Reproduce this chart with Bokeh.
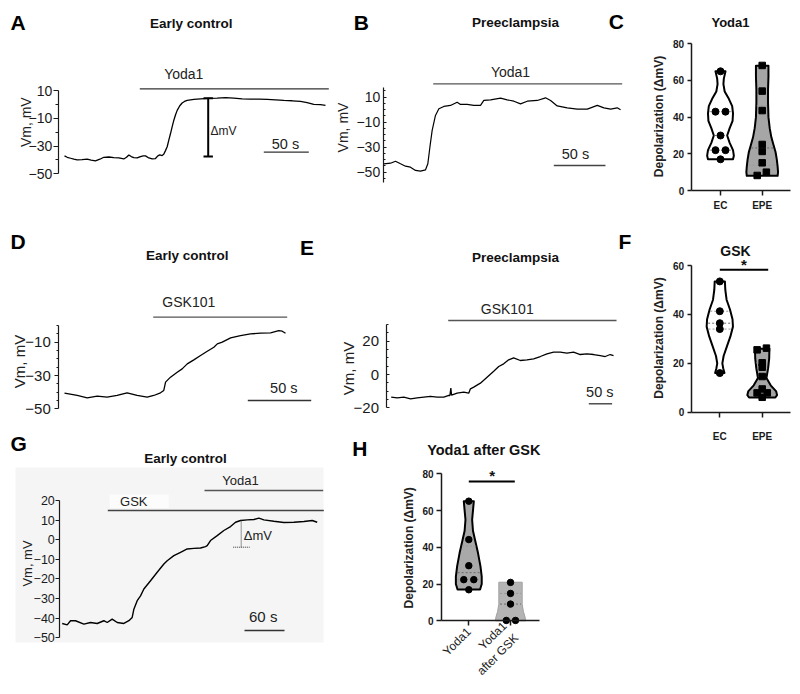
import math
import numpy as np
from bokeh.plotting import figure
from bokeh.models import Range1d, FixedTicker, Spacer
from bokeh.layouts import row, column
from bokeh.core.properties import value
from bokeh.embed import file_html
from bokeh.resources import INLINE

FONT = "Liberation Sans"

# ---------------- data ----------------
# A: early control, Yoda1 (time in s, membrane potential in mV)
a_time = [0, 3.0, 6.7, 10.4, 14.1, 19.6, 25.2, 29.6, 34.4, 39.3, 43.7, 49.3, 54.8, 60.4, 65.9, 68.9,
          71.5, 74.1, 77.0, 80.7, 84.4, 87.4, 90.0, 93.7, 97.4, 101.1, 103.7, 105.9, 108.5, 110.4,
          112.2, 114.1, 115.9, 117.8, 119.6, 121.5, 123.3, 125.2, 128.1, 130.7, 133.3, 136.3, 143.7,
          151.1, 160.4, 169.6, 178.9, 188.1, 197.4, 206.7, 215.9, 225.2, 234.4, 243.7, 253.0, 262.2,
          269.6, 277.0, 284.4, 290.0]
a_vm = [-37.1, -38.1, -38.8, -39.5, -40.0, -39.8, -39.5, -40.2, -40.7, -39.5, -38.1, -37.9, -38.3,
        -38.6, -39.3, -38.1, -36.4, -37.6, -38.3, -38.6, -37.6, -37.1, -37.1, -38.6, -39.3, -39.0,
        -37.1, -36.4, -36.9, -35.7, -33.3, -30.5, -25.7, -21.0, -16.2, -11.4, -7.6, -4.3, -1.0, 1.0,
        2.1, 2.9, 3.6, 4.0, 4.3, 4.5, 4.8, 4.5, 4.0, 3.8, 3.8, 3.6, 3.3, 2.9, 2.6, 2.1, 1.2, 0.0,
        -0.2, -0.7]

# B: preeclampsia, Yoda1
b_time = [0, 6.5, 11.3, 16.2, 21.0, 25.8, 30.7, 35.5, 40.4, 42.6, 44.6, 46.8, 50.0, 53.3, 58.1,
          64.5, 71.0, 74.2, 80.7, 87.1, 93.6, 96.8, 103.3, 113.0, 119.4, 125.9, 132.3, 138.8, 148.5,
          156.5, 161.4, 167.8, 177.5, 187.2, 196.9, 206.6, 213.0, 219.5, 225.9, 229.1]
b_vm = [-43.3, -42.8, -41.2, -43.3, -45.2, -46.0, -48.6, -49.2, -48.1, -43.3, -30.0, -16.6, -4.6,
        0.7, 2.6, 3.4, 6.0, 4.2, 4.2, 3.4, 3.4, 7.4, 7.9, 9.2, 7.9, 6.8, 4.7, 6.8, 7.4, 9.5, 7.4,
        3.0, 1.5, 0.5, 0.5, 3.5, 1.5, 0.5, 1.5, 0.0]

# C: Yoda1 depolarization (mV)
c_ec = [65, 43, 43, 30, 22, 22, 17]
c_ec_dx = [0, -0.12, 0.12, 0, -0.12, 0.12, 0]
c_epe = [68.2, 54.2, 43.6, 25.1, 21.3, 15.1, 10.0, 8.2]
c_epe_dx = [0, 0, 0, 0, 0, 0, 0.1, -0.12]
c_ec_prof_y = [65, 61, 58, 54, 50, 46, 42, 38, 34, 30, 26, 22, 19, 17]
c_ec_prof_w = [0.12, 0.08, 0.07, 0.10, 0.20, 0.28, 0.30, 0.29, 0.22, 0.16, 0.22, 0.30, 0.32, 0.30]
c_epe_prof_y = [68, 62, 55, 48, 40, 34, 29, 25, 21, 17, 13, 10, 8]
c_epe_prof_w = [0.15, 0.15, 0.14, 0.14, 0.15, 0.18, 0.22, 0.27, 0.32, 0.35, 0.37, 0.38, 0.37]

# D: early control, GSK101
d_time = [0, 10.0, 17.9, 25.8, 33.6, 41.5, 49.4, 57.3, 65.2, 70.4, 75.7, 78.3, 79.7, 83.6, 88.9,
          92.8, 96.8, 102.0, 107.3, 112.6, 117.8, 120.5, 124.4, 131.0, 138.8, 146.7, 154.6, 162.5,
          169.0, 171.7, 174.3]
d_vm = [-40.6, -42.0, -43.4, -42.4, -43.0, -42.0, -40.4, -42.0, -43.0, -42.0, -40.4, -39.0, -34.0,
        -31.0, -28.0, -26.0, -23.0, -20.6, -18.0, -15.4, -13.0, -11.0, -10.0, -7.4, -6.0, -5.0,
        -4.6, -4.4, -3.0, -3.4, -4.6]

# E: preeclampsia, GSK101
e_time = [0, 12.9, 27.2, 41.5, 55.7, 70.0, 84.3, 98.6, 112.9, 123.6, 126.0, 128.0, 129.5, 141.4,
          155.7, 166.4, 170.0, 177.1, 191.4, 205.7, 220.0, 230.7, 241.4, 252.1, 262.8, 277.1, 291.4,
          305.7, 320.0, 334.3, 348.5, 362.8, 377.1, 391.4, 405.7, 420.0, 434.3, 448.6, 459.3, 470.0,
          477.1]
e_vm = [-13.6, -14.0, -13.6, -14.6, -14.0, -13.6, -13.2, -13.6, -13.6, -12.6, -12.6, -8.2, -12.4,
        -11.2, -10.6, -11.2, -8.6, -7.6, -5.2, -1.6, 2.0, 4.8, 6.4, 8.8, 10.0, 8.4, 8.8, 9.4, 10.8,
        12.4, 13.4, 13.4, 12.8, 13.4, 12.0, 12.4, 12.0, 11.4, 10.8, 12.0, 11.4]

# F: GSK depolarization (mV)
f_ec = [53.5, 41.3, 36.4, 34.0, 16.0]
f_ec_dx = [0, 0, 0, 0, 0]
f_epe = [26.2, 25.5, 20.2, 18.4, 14.6, 9.5, 7.9, 7.9, 6.1]
f_epe_dx = [0.1, -0.12, 0, 0, 0, 0, -0.12, 0.12, 0]
f_ec_prof_y = [53.5, 50, 46, 42, 38, 35, 31, 27, 23, 20, 18, 16]
f_ec_prof_w = [0.12, 0.13, 0.16, 0.24, 0.30, 0.31, 0.25, 0.17, 0.09, 0.06, 0.08, 0.11]
f_epe_prof_y = [26, 22, 18, 14, 11, 8.5, 7, 6]
f_epe_prof_w = [0.17, 0.165, 0.14, 0.10, 0.20, 0.33, 0.35, 0.31]

# G: early control, GSK then Yoda1
g_time = [0, 7.5, 12.5, 20.0, 32.5, 42.5, 52.5, 62.5, 67.5, 75.0, 82.5, 92.5, 100.0, 105.0, 107.5,
          112.5, 117.5, 122.5, 132.5, 142.5, 152.5, 157.5, 167.5, 177.5, 187.5, 197.5, 207.5, 215.0,
          217.5, 222.5, 232.5, 242.5, 252.5, 260.0, 267.5, 277.5, 287.5, 295.0, 302.5, 317.5, 332.5,
          347.5, 362.5, 375.0, 382.5]
g_vm = [-42.7, -43.4, -41.3, -41.3, -43.0, -42.2, -42.7, -41.3, -42.2, -40.5, -42.2, -42.7, -41.3,
        -39.6, -35.4, -31.1, -28.6, -25.1, -20.9, -16.6, -12.4, -10.7, -8.1, -6.4, -4.7, -4.4, -4.2,
        -3.5, -3.0, -0.4, 2.1, 4.7, 6.7, 8.9, 9.8, 10.1, 10.3, 11.0, 10.1, 9.4, 8.8, 8.9, 9.3, 9.8,
        8.9]

# H: Yoda1 depolarization before / after GSK (mV)
h_yoda = [65.1, 44.2, 30.0, 22.4, 22.4, 16.9]
h_yoda_dx = [0, 0, 0, -0.12, 0.12, 0]
h_after = [20.9, 14.9, 9.1, 0.2, 0.2]
h_after_dx = [0, 0, 0, -0.1, 0.12]
h_yoda_prof_y = [65, 60, 55, 49, 44, 37, 29.6, 24, 20, 17]
h_yoda_prof_w = [0.12, 0.10, 0.08, 0.10, 0.15, 0.22, 0.28, 0.31, 0.31, 0.27]
h_after_prof_y = [21, 15, 9, 5, 2, 0]
h_after_prof_w = [0.28, 0.28, 0.28, 0.31, 0.35, 0.36]

cats_c = {1: "EC", 2: "EPE"}
cats_h = {1: "Yoda1", 2: "Yoda1\nafter GSK"}


# ---------------- helpers ----------------
class Panel:
    def __init__(self, cell, xcal, ycal):
        x0, y0, x1, y1 = cell
        (xpa, xva), (xpb, xvb) = xcal
        (ypa, yva), (ypb, yvb) = ycal
        self.kx = (xvb - xva) / (xpb - xpa)
        self.ky = (yvb - yva) / (ypb - ypa)
        self.xpa, self.xva, self.ypa, self.yva = xpa, xva, ypa, yva
        p = figure(width=int(round(x1 - x0)), height=int(round(y1 - y0)),
                   x_range=Range1d(self.X(x0), self.X(x1)),
                   y_range=Range1d(self.Y(y1), self.Y(y0)),
                   min_border=0, toolbar_location=None, output_backend="svg",
                   outline_line_color=None, background_fill_color="white",
                   border_fill_color="white")
        p.xgrid.grid_line_color = None
        p.ygrid.grid_line_color = None
        p.xaxis.visible = False
        p.yaxis.visible = False
        self.p = p

    def X(self, px):
        return self.xva + (px - self.xpa) * self.kx

    def Y(self, py):
        return self.yva + (py - self.ypa) * self.ky


def txt(P, px, py, s, size, bold=False, align="center", angle=0.0, color="#111111"):
    P.p.text(x=[P.X(px)], y=[P.Y(py)], text=[s], text_font=value(FONT),
             text_font_size=value(f"{size}px"),
             text_font_style="bold" if bold else "normal",
             text_align=align, text_baseline="middle", angle=angle, text_color=color)


def seg(P, px0, py0, px1, py1, color="#222222", width=1.3, dash="solid"):
    P.p.line([P.X(px0), P.X(px1)], [P.Y(py0), P.Y(py1)], line_color=color,
             line_width=width, line_dash=dash)


def scale_bar(P, px0, py, seconds, color="#333333", width=1.3):
    x0 = P.X(px0)
    P.p.line([x0, x0 + seconds], [P.Y(py)] * 2, line_color=color, line_width=width)


def style_axis(ax, size, bold=False, color="#1a1a1a", lw=1.2):
    ax.visible = True
    ax.major_label_text_font = FONT
    ax.major_label_text_font_size = f"{size}px"
    ax.major_label_text_font_style = "bold" if bold else "normal"
    ax.major_label_text_color = color
    ax.axis_line_color = color
    ax.axis_line_width = lw
    ax.major_tick_line_color = color
    ax.minor_tick_line_color = color
    ax.major_tick_line_width = lw
    ax.minor_tick_line_width = 1
    ax.axis_label = None


def yaxis(P, at_px, bounds, major, minor, size, bold=False, tout=4, tin=0, mout=2, min_=0,
          standoff=3, lw=1.2):
    ax = P.p.yaxis[0]
    style_axis(ax, size, bold, lw=lw)
    ax.fixed_location = P.X(at_px)
    ax.bounds = bounds
    ax.ticker = FixedTicker(ticks=major, minor_ticks=minor)
    ax.major_tick_out = tout
    ax.major_tick_in = tin
    ax.minor_tick_out = mout
    ax.minor_tick_in = min_
    ax.major_label_standoff = standoff


def xcat_axis(P, at_value, px0, px1, labels, size, bold=True, tout=5, standoff=4,
              orientation="horizontal", lw=1.5):
    ax = P.p.xaxis[0]
    style_axis(ax, size, bold, lw=lw)
    ax.fixed_location = at_value
    ax.bounds = (P.X(px0), P.X(px1))
    ax.ticker = FixedTicker(ticks=list(labels.keys()), minor_ticks=[])
    ax.major_label_overrides = labels
    ax.major_tick_out = tout
    ax.major_tick_in = 0
    ax.minor_tick_out = 0
    ax.minor_tick_in = 0
    ax.major_label_standoff = standoff
    ax.major_label_orientation = orientation


def violin(P, center, prof_y, prof_w, fill, line_color, lw, vals):
    xs = [center - w for w in prof_w] + [center + w for w in reversed(prof_w)]
    ys = list(prof_y) + list(reversed(prof_y))
    P.p.patch(xs, ys, fill_color=fill, line_color=line_color, line_width=lw,
              line_join="round")
    q1, med, q3 = np.percentile(vals, [25, 50, 75])
    ylo, yhi = min(prof_y), max(prof_y)
    order = np.argsort(prof_y)
    py = np.array(prof_y)[order]
    pw = np.array(prof_w)[order]
    for q, col in ((q1, "#9a9a9a"), (med, "#6a6a6a"), (q3, "#9a9a9a")):
        if ylo < q < yhi:
            w = float(np.interp(q, py, pw)) * 0.9
            P.p.line([center - w, center + w], [q, q], line_color=col, line_width=1,
                     line_dash="2 2")


def dots(P, center, vals, dx, marker, size):
    P.p.scatter([center + d for d in dx], vals, marker=marker, size=size,
                fill_color="black", line_color="black")


def vm_label(P, px, py, size):
    txt(P, px, py, "Vm, mV", size, angle=math.pi / 2, color="#222222")


LETTER = 21
TITLE = 13.5

# ---------------- Panel A ----------------
A = Panel((8, 8, 332, 210), ((64, 0), (109, 50)), ((90, 10), (173.3, -50)))
A.p.line(a_time, a_vm, line_color="black", line_width=1.3)
yaxis(A, 57.8, (-50, 10), [10, -10, -30, -50], [0, -20, -40], 14, tout=5, mout=3, standoff=1)
txt(A, 10, 21.5, "A", LETTER, bold=True, align="left", color="black")
txt(A, 190.7, 22.7, "Early control", TITLE, bold=True)
txt(A, 183.3, 73.3, "Yoda1", 14, color="#222222")
seg(A, 139.3, 88.3, 328.3, 88.3, color="#333333", width=1.3)
seg(A, 207.7, 97.7, 207.7, 156, color="black", width=2)
seg(A, 203.0, 97.7, 212.4, 97.7, color="black", width=2)
seg(A, 203.0, 156, 212.4, 156, color="black", width=2)
txt(A, 210, 130, "\u0394mV", 12, align="left", color="#222222")
scale_bar(A, 263.3, 151.7, 50)
txt(A, 285, 143.3, "50 s", 14.5, color="#222222")
vm_label(A, 25, 121.7, 14)

# ---------------- Panel B ----------------
B = Panel((332, 8, 628, 210), ((383.3, 0), (434.97, 50)), ((96.7, 10), (171.7, -50)))
B.p.line(b_time, b_vm, line_color="black", line_width=1.2)
yaxis(B, 382.7, (-58, 18), [10, -10, -30, -50],
      [15, 5, 0, -5, -15, -20, -25, -35, -40, -45, -55], 14, tout=0, tin=3, mout=0, min_=2,
      standoff=3)
txt(B, 353.3, 21.7, "B", LETTER, bold=True, align="left", color="black")
txt(B, 515, 21.7, "Preeclampsia", TITLE, bold=True)
txt(B, 510, 71.7, "Yoda1", 14, color="#222222")
seg(B, 432.7, 83.3, 621.7, 83.3, color="#555555", width=1.3)
scale_bar(B, 553.3, 165, 50, color="#444444")
txt(B, 575, 153.3, "50 s", 14.5, color="#222222")
vm_label(B, 342, 127, 14)
txt(B, 608.3, 20.8, "C", LETTER, bold=True, align="left", color="black")

# ---------------- Panel C ----------------
C = Panel((628, 8, 792, 210), ((720, 1), (761.7, 2)), ((190, 0), (43.3, 80)))
violin(C, 1, c_ec_prof_y, c_ec_prof_w, "white", "black", 2, c_ec)
violin(C, 2, c_epe_prof_y, c_epe_prof_w, "#a6a6a6", "black", 2, c_epe)
dots(C, 1, c_ec, c_ec_dx, "circle", 7)
dots(C, 2, c_epe, c_epe_dx, "square", 6.5)
yaxis(C, 690.7, (0, 80), [0, 20, 40, 60, 80], [], 10, bold=True, tout=4, standoff=3, lw=1.5)
xcat_axis(C, 0, 690.7, 790, cats_c, 10, bold=True, tout=5, standoff=4)
txt(C, 730, 21.7, "Yoda1", 13, bold=True)
txt(C, 658, 116, "Depolarization (\u0394mV)", 12, bold=True, angle=math.pi / 2, color="#222222")

# ---------------- Panel D ----------------
D = Panel((8, 210, 316, 420), ((64, 0), (127.4, 50)), ((341.7, -10), (408.3, -50)))
D.p.line(d_time, d_vm, line_color="black", line_width=1.3)
yaxis(D, 58.3, (-50, 0), [-10, -30, -50],
      [0, -5, -15, -20, -25, -35, -40, -45], 15, tout=4, mout=2, standoff=4)
txt(D, 10, 240.8, "D", LETTER, bold=True, align="left", color="black")
txt(D, 186.7, 255, "Early control", TITLE, bold=True)
txt(D, 188.3, 301.7, "GSK101", 14, color="#222222")
seg(D, 152.7, 316.7, 286.7, 316.7, color="#555555", width=1.3)
scale_bar(D, 247.3, 400, 50)
txt(D, 283.3, 387.3, "50 s", 14.5, color="#222222")
vm_label(D, 19, 361, 15)
txt(D, 299.5, 246.7, "E", LETTER, bold=True, align="left", color="black")

# ---------------- Panel E ----------------
E = Panel((316, 210, 617, 420), ((390.7, 0), (414.0, 50)), ((340.7, 20), (407.3, -20)))
E.p.line(e_time, e_vm, line_color="black", line_width=1.3)
yaxis(E, 385.5, (-20, 30), [20, 0, -20],
      [30, 25, 15, 10, 5, -5, -10, -15], 15, tout=0, tin=3, mout=0, min_=2, standoff=7)
txt(E, 515, 257.3, "Preeclampsia", TITLE, bold=True)
txt(E, 506.7, 308.3, "GSK101", 14, color="#222222")
seg(E, 447.7, 320, 616, 320, color="#555555", width=1.3)
scale_bar(E, 588.3, 403.3, 50)
txt(E, 599.3, 391.7, "50 s", 14.5, color="#222222")
vm_label(E, 348.3, 368, 15)

# ---------------- Panel F ----------------
F = Panel((617, 210, 792, 452), ((719.3, 1), (761.7, 2)), ((411.7, 0), (265, 60)))
violin(F, 1, f_ec_prof_y, f_ec_prof_w, "white", "black", 2, f_ec)
violin(F, 2, f_epe_prof_y, f_epe_prof_w, "#a6a6a6", "black", 2, f_epe)
dots(F, 1, f_ec, f_ec_dx, "circle", 7)
dots(F, 2, f_epe, f_epe_dx, "square", 6.5)
yaxis(F, 690.7, (0, 60), [0, 20, 40, 60], [], 10, bold=True, tout=4, standoff=3, lw=1.5)
xcat_axis(F, 0, 690.7, 790, cats_c, 10, bold=True, tout=5, standoff=14)
txt(F, 618, 240.5, "F", LETTER, bold=True, align="left", color="black")
txt(F, 735, 250.7, "GSK", 14, bold=True)
txt(F, 743.3, 263.5, "*", 15, bold=True)
seg(F, 719.3, 269.3, 767.7, 269.3, color="black", width=2)
txt(F, 658.3, 337.5, "Depolarization (\u0394mV)", 12, bold=True, angle=math.pi / 2,
    color="#222222")

# ---------------- Panel G ----------------
G = Panel((8, 420, 345, 686), ((61.7, 0), (101.7, 60)), ((500, 20), (637.3, -50)))
G.p.quad(left=[G.X(15)], right=[G.X(323)], top=[G.Y(467)], bottom=[G.Y(642)],
         fill_color="#f5f5f5", line_color=None)
G.p.quad(left=[G.X(109.3)], right=[G.X(168.3)], top=[G.Y(494)], bottom=[G.Y(507.5)],
         fill_color="#fcfcfc", line_color=None)
G.p.line(g_time, g_vm, line_color="black", line_width=1.4)
yaxis(G, 59.3, (-50, 20), [20, 10, 0, -10, -20, -30, -40, -50], [], 12.5, tout=4, standoff=1)
txt(G, 10, 442.5, "G", LETTER, bold=True, align="left", color="black")
txt(G, 185, 458.3, "Early control", TITLE, bold=True)
txt(G, 240, 480, "Yoda1", 13, color="#222222")
seg(G, 204, 490, 322.7, 490, color="#555555", width=1.3)
txt(G, 133.3, 501, "GSK", 13, color="#222222")
seg(G, 107.3, 510, 323.3, 510, color="#444444", width=1.3)
seg(G, 240.7, 520, 240.7, 546.7, color="#333333", width=1, dash="1 1")
seg(G, 232.7, 546.7, 249.3, 546.7, color="#333333", width=1, dash="1 1")
txt(G, 243.3, 535, "\u0394mV", 13, align="left", color="#222222")
scale_bar(G, 244, 630, 60)
txt(G, 262.7, 616, "60 s", 15, color="#222222")
vm_label(G, 26.7, 563, 13)

# ---------------- Panel H ----------------
H = Panel((345, 420, 570, 686), ((468.3, 1), (510, 2)), ((620.3, 0), (473.3, 80)))
violin(H, 1, h_yoda_prof_y, h_yoda_prof_w, "#a9a9a9", "black", 2, h_yoda)
violin(H, 2, h_after_prof_y, h_after_prof_w, "#b4b4b4", "#a0a0a0", 1, h_after)
dots(H, 1, h_yoda, h_yoda_dx, "circle", 6.5)
dots(H, 2, h_after, h_after_dx, "circle", 6.5)
yaxis(H, 441, (0, 80), [0, 20, 40, 60, 80], [], 10, bold=True, tout=5, standoff=3, lw=1.5)
xcat_axis(H, 0, 441, 539.3, cats_h, 12, bold=False, tout=5, standoff=4,
          orientation=math.pi / 4)
txt(H, 351.7, 448.3, "H", LETTER, bold=True, align="left", color="black")
txt(H, 483.3, 449.3, "Yoda1 after GSK", 14.5, bold=True)
txt(H, 491.7, 475, "*", 15, bold=True)
seg(H, 468.3, 481, 514.3, 481, color="black", width=2)
txt(H, 408.3, 547.3, "Depolarization (\u0394mV)", 12, bold=True, angle=math.pi / 2,
    color="#222222")

left_block = column(row(D.p, E.p), row(G.p, H.p))
grid = column(row(A.p, B.p, C.p), row(left_block, F.p))
layout = column(Spacer(height=8), row(Spacer(width=8), grid))
open("out.html", "w").write(file_html(layout, INLINE))
